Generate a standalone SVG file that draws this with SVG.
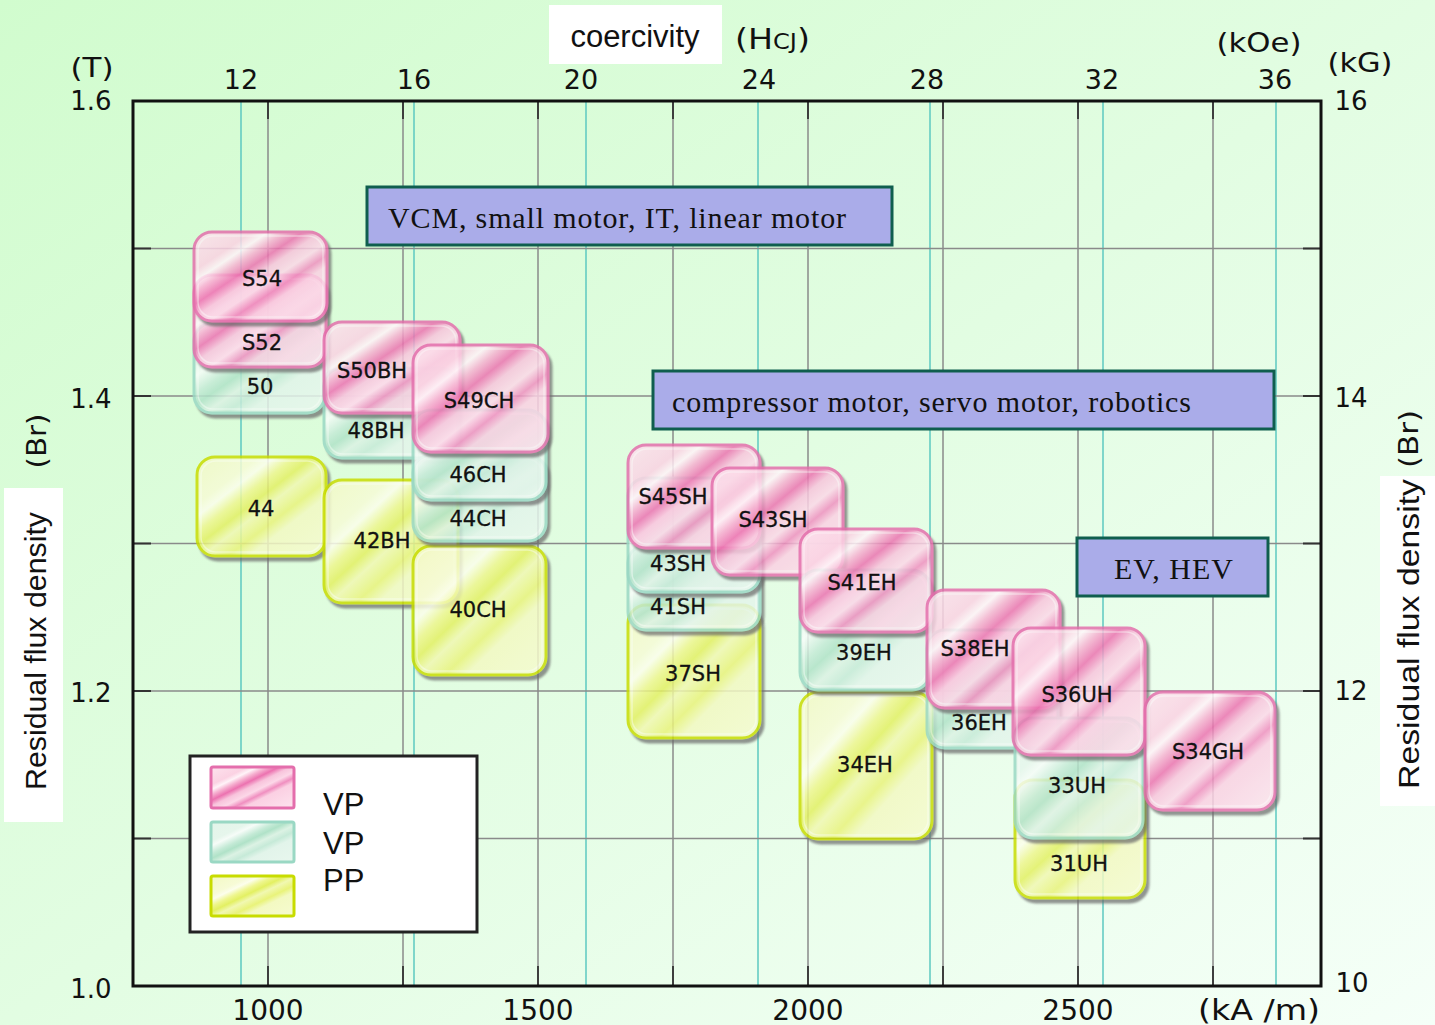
<svg xmlns="http://www.w3.org/2000/svg" width="1435" height="1025" viewBox="0 0 1435 1025">
  <defs>
    <linearGradient id="bg" x1="0" y1="0" x2="1" y2="1">
      <stop offset="0" stop-color="#d1fcce"/>
      <stop offset="0.5" stop-color="#e2fde2"/>
      <stop offset="1" stop-color="#f5fff8"/>
    </linearGradient>
    <linearGradient id="gPink" x1="0" y1="0" x2="1" y2="1">
      <stop offset="0" stop-color="#fde3ee"/>
      <stop offset="0.22" stop-color="#fbd2e3"/>
      <stop offset="0.28" stop-color="#fff3f8"/>
      <stop offset="0.34" stop-color="#f6b2d1"/>
      <stop offset="0.41" stop-color="#ec72b0"/>
      <stop offset="0.48" stop-color="#f8c4dc"/>
      <stop offset="0.56" stop-color="#fcd8e8"/>
      <stop offset="0.63" stop-color="#f08fc0"/>
      <stop offset="0.69" stop-color="#fbd0e3"/>
      <stop offset="1" stop-color="#fde4ee"/>
    </linearGradient>
    <linearGradient id="gGreen" x1="0" y1="0" x2="1" y2="1">
      <stop offset="0" stop-color="#e4f5ea"/>
      <stop offset="0.24" stop-color="#e6f6ec"/>
      <stop offset="0.3" stop-color="#f6fcf8"/>
      <stop offset="0.4" stop-color="#c4ead6"/>
      <stop offset="0.46" stop-color="#b0e2c8"/>
      <stop offset="0.54" stop-color="#dcf2e4"/>
      <stop offset="0.62" stop-color="#c6ead8"/>
      <stop offset="0.7" stop-color="#e2f4ea"/>
      <stop offset="1" stop-color="#e8f7ee"/>
    </linearGradient>
    <linearGradient id="gYellow" x1="0" y1="0" x2="1" y2="1">
      <stop offset="0" stop-color="#f3f9c4"/>
      <stop offset="0.24" stop-color="#f7fbd6"/>
      <stop offset="0.3" stop-color="#fcfeec"/>
      <stop offset="0.38" stop-color="#eef68e"/>
      <stop offset="0.45" stop-color="#e3f062"/>
      <stop offset="0.52" stop-color="#f1f8b2"/>
      <stop offset="0.62" stop-color="#e9f37a"/>
      <stop offset="0.7" stop-color="#f3f9c2"/>
      <stop offset="1" stop-color="#f6fbd0"/>
    </linearGradient>
    <filter id="drop" x="-10%" y="-10%" width="130%" height="130%">
      <feOffset in="SourceAlpha" dx="3" dy="4" result="o"/>
      <feGaussianBlur in="o" stdDeviation="0.8" result="b"/>
      <feFlood flood-color="#6a6a6a" flood-opacity="0.85"/>
      <feComposite operator="in" in2="b" result="s"/>
      <feMerge><feMergeNode in="s"/><feMergeNode in="SourceGraphic"/></feMerge>
    </filter>
    <style>
      .grid { stroke: #8a8a8a; stroke-width: 1.5; fill: none; }
      .tick { stroke: #333; stroke-width: 1.8; fill: none; }
      .cyan { stroke: #5cc8c0; stroke-width: 1.5; fill: none; }
      .ax { font-family: "DejaVu Sans", "Noto Sans CJK JP", sans-serif; fill: #111; }
      .title { font-family: "Liberation Sans", Arial, sans-serif; fill: #111; }
      .app rect { fill: #aaace9; stroke: #0f5e4e; stroke-width: 3; }
      .app text { font-family: "Liberation Serif", "Times New Roman", serif; font-size: 30px; fill: #111; }
      .tile { opacity: 0.84; }
      .tile rect { stroke-width: 3; }
      .pink rect { fill: url(#gPink); stroke: #e46eac; }
      .green rect { fill: url(#gGreen); stroke: #9ad8c4; }
      .yellow rect { fill: url(#gYellow); stroke: #c8dc00; }
      .tile rect.hl { fill: none; stroke: #ffffff; stroke-opacity: 0.45; stroke-width: 1.5; }
      .lbl { font-family: "DejaVu Sans", "Noto Sans CJK JP", sans-serif; font-size: 21px; fill: #111; text-anchor: middle; stroke: #111; stroke-width: 0.3; }
    </style>
  </defs>

  <!-- background -->
  <rect x="0" y="0" width="1435" height="1025" fill="url(#bg)"/>

  <!-- grid: kA/m (gray) and kOe (cyan) -->
  <g id="grid">
    <g class="cyan">
      <line x1="241" y1="101" x2="241" y2="986"/>
      <line x1="414" y1="101" x2="414" y2="986"/>
      <line x1="586" y1="101" x2="586" y2="986"/>
      <line x1="758" y1="101" x2="758" y2="986"/>
      <line x1="930" y1="101" x2="930" y2="986"/>
      <line x1="1103" y1="101" x2="1103" y2="986"/>
      <line x1="1276" y1="101" x2="1276" y2="986"/>
    </g>
    <g class="grid">
      <line x1="268" y1="101" x2="268" y2="986"/>
      <line x1="403" y1="101" x2="403" y2="986"/>
      <line x1="538" y1="101" x2="538" y2="986"/>
      <line x1="673" y1="101" x2="673" y2="986"/>
      <line x1="808" y1="101" x2="808" y2="986"/>
      <line x1="943" y1="101" x2="943" y2="986"/>
      <line x1="1078" y1="101" x2="1078" y2="986"/>
      <line x1="1213" y1="101" x2="1213" y2="986"/>
      <line x1="133" y1="248.5" x2="1321" y2="248.5"/>
      <line x1="133" y1="396" x2="1321" y2="396"/>
      <line x1="133" y1="543.5" x2="1321" y2="543.5"/>
      <line x1="133" y1="691" x2="1321" y2="691"/>
      <line x1="133" y1="838.5" x2="1321" y2="838.5"/>
    </g>
    <path class="tick" d="M268 966V986M403 966V986M538 966V986M673 966V986M808 966V986M943 966V986M1078 966V986M1213 966V986
      M268 101V119M403 101V119M538 101V119M673 101V119M808 101V119M943 101V119M1078 101V119M1213 101V119
      M133 248.5H151M133 396H151M133 543.5H151M133 691H151M133 838.5H151
      M1303 248.5H1321M1303 396H1321M1303 543.5H1321M1303 691H1321M1303 838.5H1321"/>
    <rect x="133" y="101" width="1188" height="885" fill="none" stroke="#111" stroke-width="3"/>
  </g>

  <!-- axis titles and scales -->
  <g id="axes" text-anchor="middle">
    <rect x="549" y="5" width="173" height="59" fill="#ffffff"/>
    <text class="title" x="635" y="47" font-size="31">coercivity</text>
    <text class="ax" x="735" y="49" font-size="29" text-anchor="start" textLength="75" lengthAdjust="spacingAndGlyphs">(H<tspan font-size="21">CJ</tspan>)</text>
    <text class="ax" x="1259" y="52" font-size="27" textLength="85" lengthAdjust="spacingAndGlyphs">(kOe)</text>
    <text class="ax" x="1360" y="72" font-size="27" textLength="65" lengthAdjust="spacingAndGlyphs">(kG)</text>
    <text class="ax" x="92" y="77" font-size="27" textLength="43" lengthAdjust="spacingAndGlyphs">(T)</text>

    <text class="ax" x="241" y="89" font-size="27">12</text>
    <text class="ax" x="414" y="89" font-size="27">16</text>
    <text class="ax" x="581" y="89" font-size="27">20</text>
    <text class="ax" x="759" y="89" font-size="27">24</text>
    <text class="ax" x="927" y="89" font-size="27">28</text>
    <text class="ax" x="1102" y="89" font-size="27">32</text>
    <text class="ax" x="1275" y="89" font-size="27">36</text>

    <text class="ax" x="91" y="110" font-size="26">1.6</text>
    <text class="ax" x="91" y="408" font-size="26">1.4</text>
    <text class="ax" x="91" y="702" font-size="26">1.2</text>
    <text class="ax" x="91" y="998" font-size="26">1.0</text>

    <text class="ax" x="1351" y="110" font-size="26">16</text>
    <text class="ax" x="1351" y="407" font-size="26">14</text>
    <text class="ax" x="1351" y="700" font-size="26">12</text>
    <text class="ax" x="1352" y="992" font-size="26">10</text>

    <text class="ax" x="268" y="1020" font-size="28">1000</text>
    <text class="ax" x="538" y="1020" font-size="28">1500</text>
    <text class="ax" x="808" y="1020" font-size="28">2000</text>
    <text class="ax" x="1078" y="1020" font-size="28">2500</text>
    <text class="ax" x="1259" y="1020" font-size="28" textLength="122" lengthAdjust="spacingAndGlyphs">(kA /m)</text>

    <rect x="4" y="488" width="59" height="334" fill="#ffffff"/>
    <text class="title" font-size="30" transform="translate(46 651) rotate(-90)" textLength="278" lengthAdjust="spacingAndGlyphs">Residual flux density</text>
    <text class="ax" font-size="27" transform="translate(46 441) rotate(-90)" textLength="55" lengthAdjust="spacingAndGlyphs">(Br)</text>

    <rect x="1380" y="476" width="55" height="330" fill="#ffffff"/>
    <text class="title" font-size="30" transform="translate(1419 634) rotate(-90)" textLength="310" lengthAdjust="spacingAndGlyphs">Residual flux density</text>
    <text class="ax" font-size="27" transform="translate(1418 439) rotate(-90)" textLength="58" lengthAdjust="spacingAndGlyphs">(Br)</text>
  </g>

  <!-- application ranges -->
  <g id="app-vcm" class="app">
    <rect x="367" y="187" width="525" height="58"/>
    <text x="388" y="228" textLength="458" lengthAdjust="spacing">VCM, small motor, IT, linear motor</text>
  </g>
  <g id="app-compressor" class="app">
    <rect x="653" y="371" width="621" height="58"/>
    <text x="672" y="412" textLength="519" lengthAdjust="spacing">compressor motor, servo motor, robotics</text>
  </g>
  <g id="app-ev" class="app">
    <rect x="1077" y="538" width="191" height="58"/>
    <text x="1114" y="579" textLength="119" lengthAdjust="spacing">EV, HEV</text>
  </g>

  <!-- grade tiles -->
  <g id="grade-44"><g class="tile yellow" filter="url(#drop)"><rect x="197" y="457" width="129" height="99" rx="18"/><rect class="hl" x="201" y="461" width="121" height="91" rx="15"/></g><text class="lbl" x="261" y="516">44</text></g>
  <g id="grade-50"><g class="tile green" filter="url(#drop)"><rect x="194" y="323" width="131" height="90" rx="18"/><rect class="hl" x="198" y="327" width="123" height="82" rx="15"/></g><text class="lbl" x="260" y="394">50</text></g>
  <g id="grade-S52"><g class="tile pink" filter="url(#drop)"><rect x="194" y="275" width="132" height="92" rx="18"/><rect class="hl" x="198" y="279" width="124" height="84" rx="15"/></g><text class="lbl" x="262" y="350">S52</text></g>
  <g id="grade-S54"><g class="tile pink" filter="url(#drop)"><rect x="194" y="232" width="133" height="89" rx="18"/><rect class="hl" x="198" y="236" width="125" height="81" rx="15"/></g><text class="lbl" x="262" y="286">S54</text></g>

  <g id="grade-42BH"><g class="tile yellow" filter="url(#drop)"><rect x="324" y="480" width="134" height="123" rx="18"/><rect class="hl" x="328" y="484" width="126" height="115" rx="15"/></g><text class="lbl" x="382" y="548">42BH</text></g>
  <g id="grade-48BH"><g class="tile green" filter="url(#drop)"><rect x="324" y="368" width="134" height="90" rx="18"/><rect class="hl" x="328" y="372" width="126" height="82" rx="15"/></g><text class="lbl" x="376" y="438">48BH</text></g>
  <g id="grade-S50BH"><g class="tile pink" filter="url(#drop)"><rect x="324" y="322" width="136" height="91" rx="18"/><rect class="hl" x="328" y="326" width="128" height="83" rx="15"/></g><text class="lbl" x="372" y="378">S50BH</text></g>

  <g id="grade-40CH"><g class="tile yellow" filter="url(#drop)"><rect x="413" y="546" width="133" height="129" rx="18"/><rect class="hl" x="417" y="550" width="125" height="121" rx="15"/></g><text class="lbl" x="478" y="617">40CH</text></g>
  <g id="grade-44CH"><g class="tile green" filter="url(#drop)"><rect x="413" y="455" width="133" height="86" rx="18"/><rect class="hl" x="417" y="459" width="125" height="78" rx="15"/></g><text class="lbl" x="478" y="526">44CH</text></g>
  <g id="grade-46CH"><g class="tile green" filter="url(#drop)"><rect x="413" y="410" width="133" height="90" rx="18"/><rect class="hl" x="417" y="414" width="125" height="82" rx="15"/></g><text class="lbl" x="478" y="482">46CH</text></g>
  <g id="grade-S49CH"><g class="tile pink" filter="url(#drop)"><rect x="413" y="345" width="135" height="107" rx="18"/><rect class="hl" x="417" y="349" width="127" height="99" rx="15"/></g><text class="lbl" x="479" y="408">S49CH</text></g>

  <g id="grade-37SH"><g class="tile yellow" filter="url(#drop)"><rect x="628" y="605" width="132" height="133" rx="18"/><rect class="hl" x="632" y="609" width="124" height="125" rx="15"/></g><text class="lbl" x="693" y="681">37SH</text></g>
  <g id="grade-41SH"><g class="tile green" filter="url(#drop)"><rect x="628" y="545" width="132" height="85" rx="18"/><rect class="hl" x="632" y="549" width="124" height="77" rx="15"/></g><text class="lbl" x="678" y="614">41SH</text></g>
  <g id="grade-43SH"><g class="tile green" filter="url(#drop)"><rect x="628" y="478" width="132" height="114" rx="18"/><rect class="hl" x="632" y="482" width="124" height="106" rx="15"/></g><text class="lbl" x="678" y="571">43SH</text></g>
  <g id="grade-S45SH"><g class="tile pink" filter="url(#drop)"><rect x="628" y="445" width="132" height="103" rx="18"/><rect class="hl" x="632" y="449" width="124" height="95" rx="15"/></g><text class="lbl" x="673" y="504">S45SH</text></g>

  <g id="grade-S43SH"><g class="tile pink" filter="url(#drop)"><rect x="712" y="468" width="131" height="107" rx="18"/><rect class="hl" x="716" y="472" width="123" height="99" rx="15"/></g><text class="lbl" x="773" y="527">S43SH</text></g>

  <g id="grade-34EH"><g class="tile yellow" filter="url(#drop)"><rect x="800" y="692" width="132" height="147" rx="18"/><rect class="hl" x="804" y="696" width="124" height="139" rx="15"/></g><text class="lbl" x="865" y="772">34EH</text></g>
  <g id="grade-39EH"><g class="tile green" filter="url(#drop)"><rect x="800" y="570" width="130" height="120" rx="18"/><rect class="hl" x="804" y="574" width="122" height="112" rx="15"/></g><text class="lbl" x="864" y="660">39EH</text></g>
  <g id="grade-S41EH"><g class="tile pink" filter="url(#drop)"><rect x="800" y="529" width="132" height="103" rx="18"/><rect class="hl" x="804" y="533" width="124" height="95" rx="15"/></g><text class="lbl" x="862" y="590">S41EH</text></g>

  <g id="grade-36EH"><g class="tile green" filter="url(#drop)"><rect x="927" y="630" width="131" height="118" rx="18"/><rect class="hl" x="931" y="634" width="123" height="110" rx="15"/></g><text class="lbl" x="979" y="730">36EH</text></g>
  <g id="grade-S38EH"><g class="tile pink" filter="url(#drop)"><rect x="927" y="590" width="133" height="118" rx="18"/><rect class="hl" x="931" y="594" width="125" height="110" rx="15"/></g><text class="lbl" x="975" y="656">S38EH</text></g>

  <g id="grade-31UH"><g class="tile yellow" filter="url(#drop)"><rect x="1015" y="780" width="130" height="118" rx="18"/><rect class="hl" x="1019" y="784" width="122" height="110" rx="15"/></g><text class="lbl" x="1079" y="871">31UH</text></g>
  <g id="grade-33UH"><g class="tile green" filter="url(#drop)"><rect x="1015" y="718" width="128" height="120" rx="18"/><rect class="hl" x="1019" y="722" width="120" height="112" rx="15"/></g><text class="lbl" x="1077" y="793">33UH</text></g>
  <g id="grade-S36UH"><g class="tile pink" filter="url(#drop)"><rect x="1013" y="628" width="132" height="127" rx="18"/><rect class="hl" x="1017" y="632" width="124" height="119" rx="15"/></g><text class="lbl" x="1077" y="702">S36UH</text></g>

  <g id="grade-S34GH"><g class="tile pink" filter="url(#drop)"><rect x="1145" y="692" width="130" height="118" rx="18"/><rect class="hl" x="1149" y="696" width="122" height="110" rx="15"/></g><text class="lbl" x="1208" y="759">S34GH</text></g>

  <!-- legend -->
  <g id="legend">
    <rect x="190" y="756" width="287" height="176" fill="#ffffff" stroke="#222" stroke-width="3"/>
    <g class="pink"><rect x="211" y="767" width="83" height="41" rx="2" style="stroke-width:3"/></g>
    <g class="green"><rect x="211" y="822" width="83" height="40" rx="2" style="stroke-width:3"/></g>
    <g class="yellow"><rect x="211" y="876" width="83" height="40" rx="2" style="stroke-width:3"/></g>
    <text class="title" x="323" y="815" font-size="31">VP</text>
    <text class="title" x="323" y="854" font-size="31">VP</text>
    <text class="title" x="323" y="891" font-size="31">PP</text>
  </g>
</svg>
